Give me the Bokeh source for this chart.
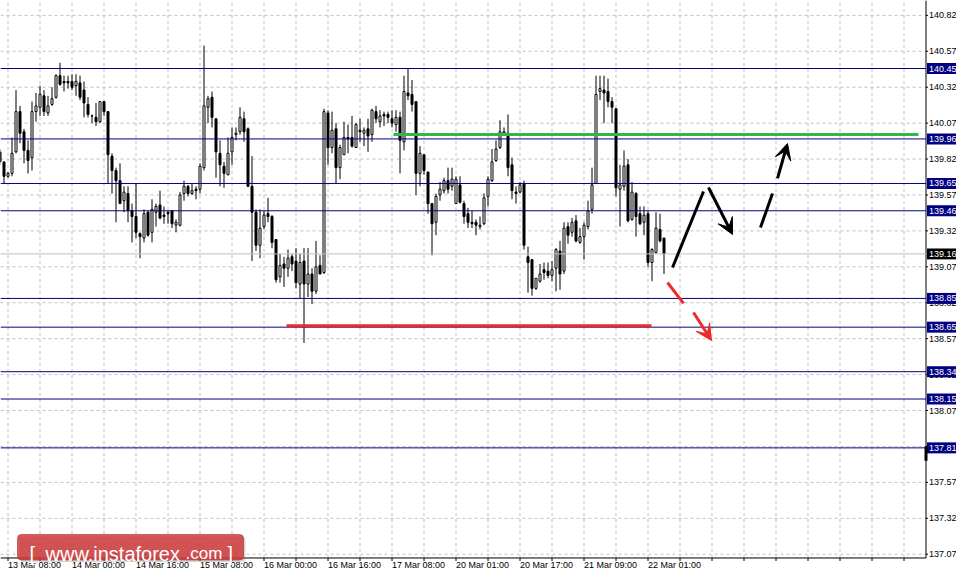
import pandas as pd
from bokeh.plotting import figure
from bokeh.models import (Range1d, Label, Arrow, VeeHead, BoxAnnotation, ColumnDataSource)
from bokeh.core.properties import value
from bokeh.embed import file_html
from bokeh.resources import INLINE

# ---------------- data (H1 candles, bar 0 = 13 Mar 08:00) ----------------
FIRST_BAR = -2
opens = [
    139.87, 139.80, 139.70, 139.72, 139.87, 140.15, 140.01, 139.88, 139.83, 140.15,
    140.18, 140.26, 140.14, 140.20, 140.25, 140.40, 140.36, 140.36, 140.36, 140.33,
    140.35, 140.30, 140.20, 140.12, 140.11, 140.08, 140.22, 140.15, 139.84, 139.74,
    139.67, 139.53, 139.58, 139.46, 139.42, 139.30, 139.27, 139.45, 139.31, 139.45,
    139.50, 139.43, 139.45, 139.46, 139.36, 139.36, 139.58, 139.63, 139.58, 139.61,
    139.61, 139.76, 140.18, 140.25, 140.10, 139.86, 139.77, 139.71, 139.87, 139.99,
    140.01, 140.10, 140.03, 139.63, 139.45, 139.22, 139.35, 139.44, 139.42, 139.26,
    139.00, 139.09, 139.06, 139.14, 139.11, 138.95, 139.11, 138.95, 139.02, 138.90,
    139.08, 139.03, 140.14, 139.90, 140.03, 139.76, 139.85, 139.97, 139.97, 139.90,
    140.02, 140.00, 140.03, 139.99, 140.15, 140.08, 140.13, 140.13, 140.10, 140.06,
    140.11, 139.94, 140.28, 140.27, 140.22, 139.72, 139.85, 139.73, 139.51, 139.38,
    139.57, 139.60, 139.67, 139.63, 139.51, 139.64, 139.51, 139.44, 139.38, 139.38,
    139.35, 139.37, 139.56, 139.67, 139.81, 139.90, 140.00, 140.00, 139.78, 139.59,
    139.59, 139.65, 139.14, 139.12, 138.92, 138.97, 139.05, 139.04, 139.01, 139.06,
    139.18, 139.04, 139.35, 139.31, 139.39, 139.24, 139.28, 139.35, 139.47, 139.65,
    140.29, 140.30, 140.29, 140.22, 140.17, 139.61, 139.63, 139.78, 139.40, 139.58,
    139.44, 139.38, 139.44, 139.10, 139.17, 139.33, 139.27,
]
highs = [
    139.89, 139.80, 139.73, 139.97, 140.30, 140.19, 140.03, 139.95, 140.22, 140.28,
    140.33, 140.30, 140.26, 140.32, 140.41, 140.49, 140.40, 140.40, 140.41, 140.41,
    140.40, 140.36, 140.25, 140.13, 140.21, 140.22, 140.22, 140.15, 139.86, 139.76,
    139.79, 139.63, 139.63, 139.51, 139.65, 139.31, 139.47, 139.46, 139.54, 139.51,
    139.60, 139.49, 139.46, 139.46, 139.40, 139.59, 139.67, 139.64, 139.65, 139.63,
    139.79, 140.61, 140.26, 140.29, 140.10, 139.95, 139.80, 139.97, 140.04, 140.04,
    140.18, 140.15, 140.04, 139.84, 139.47, 139.47, 139.46, 139.55, 139.43, 139.26,
    139.16, 139.14, 139.19, 139.16, 139.20, 139.16, 139.20, 139.20, 139.06, 139.25,
    139.15, 140.17, 140.16, 140.15, 140.07, 139.92, 140.08, 140.06, 140.12, 140.07,
    140.10, 140.04, 140.10, 140.17, 140.19, 140.16, 140.15, 140.15, 140.16, 140.16,
    140.15, 140.40, 140.45, 140.37, 140.22, 139.91, 139.85, 139.73, 139.51, 139.58,
    139.66, 139.69, 139.76, 139.76, 139.70, 139.70, 139.53, 139.48, 139.46, 139.40,
    139.42, 139.58, 139.70, 139.89, 139.95, 140.09, 140.04, 140.13, 139.83, 139.63,
    139.66, 139.67, 139.21, 139.12, 138.99, 139.09, 139.10, 139.10, 139.11, 139.20,
    139.25, 139.38, 139.38, 139.41, 139.43, 139.34, 139.38, 139.53, 139.76, 140.40,
    140.40, 140.40, 140.38, 140.25, 140.17, 139.78, 139.88, 139.82, 139.66, 139.59,
    139.49, 139.49, 139.46, 139.20, 139.45, 139.44, 139.27,
]
lows = [
    139.78, 139.65, 139.69, 139.70, 139.86, 139.93, 139.79, 139.72, 139.74, 140.08,
    140.12, 140.12, 140.12, 140.19, 140.24, 140.33, 140.29, 140.31, 140.30, 140.26,
    140.23, 140.11, 140.11, 140.07, 140.05, 140.07, 140.12, 139.65, 139.58, 139.38,
    139.51, 139.45, 139.38, 139.24, 139.27, 139.13, 139.24, 139.28, 139.24, 139.35,
    139.40, 139.37, 139.37, 139.34, 139.31, 139.35, 139.53, 139.56, 139.57, 139.54,
    139.58, 139.74, 140.07, 140.04, 139.69, 139.63, 139.62, 139.71, 139.78, 139.95,
    139.99, 139.94, 139.63, 139.11, 139.18, 139.13, 139.33, 139.38, 139.20, 138.96,
    138.96, 138.93, 139.00, 139.04, 138.92, 138.85, 138.54, 138.86, 138.81, 138.88,
    139.02, 139.02, 139.78, 139.86, 139.65, 139.68, 139.85, 139.86, 139.90, 139.90,
    139.94, 139.91, 139.87, 139.94, 140.07, 140.04, 140.05, 140.07, 140.04, 140.01,
    139.72, 139.88, 140.23, 140.15, 139.57, 139.63, 139.71, 139.44, 139.15, 139.29,
    139.53, 139.58, 139.58, 139.60, 139.51, 139.51, 139.37, 139.34, 139.34, 139.29,
    139.33, 139.36, 139.49, 139.66, 139.80, 139.89, 139.99, 139.70, 139.54, 139.51,
    139.58, 139.19, 138.89, 138.87, 138.91, 138.96, 138.98, 138.99, 138.97, 138.90,
    138.91, 139.02, 139.23, 139.28, 139.24, 139.23, 139.12, 139.33, 139.44, 139.65,
    140.23, 140.07, 140.18, 140.07, 139.56, 139.35, 139.60, 139.38, 139.39, 139.28,
    139.36, 139.29, 139.07, 138.97, 139.16, 139.24, 139.02,
]
closes = [
    139.80, 139.70, 139.72, 139.86, 140.15, 140.00, 139.88, 139.81, 140.15, 140.19,
    140.27, 140.15, 140.19, 140.24, 140.40, 140.34, 140.35, 140.35, 140.32, 140.36,
    140.25, 140.21, 140.13, 140.12, 140.08, 140.22, 140.15, 139.85, 139.74, 139.67,
    139.51, 139.59, 139.46, 139.42, 139.31, 139.28, 139.44, 139.29, 139.47, 139.49,
    139.41, 139.42, 139.44, 139.37, 139.38, 139.57, 139.63, 139.58, 139.60, 139.60,
    139.77, 140.19, 140.24, 140.11, 139.87, 139.78, 139.72, 139.86, 139.97, 140.00,
    140.11, 140.01, 139.63, 139.45, 139.22, 139.34, 139.43, 139.42, 139.24, 138.98,
    139.08, 139.06, 139.13, 139.09, 138.96, 139.10, 138.95, 139.02, 138.90, 139.07,
    139.02, 140.15, 139.90, 140.02, 139.76, 139.90, 139.97, 139.96, 139.91, 140.06,
    140.01, 140.02, 139.98, 140.16, 140.10, 140.12, 140.12, 140.11, 140.07, 140.11,
    139.95, 140.29, 140.26, 140.20, 139.72, 139.86, 139.74, 139.51, 139.37, 139.56,
    139.61, 139.67, 139.61, 139.68, 139.68, 139.52, 139.42, 139.38, 139.37, 139.36,
    139.36, 139.55, 139.68, 139.80, 139.89, 140.01, 140.01, 139.76, 139.60, 139.58,
    139.64, 139.22, 139.10, 138.92, 138.99, 139.02, 139.03, 139.01, 139.05, 139.19,
    139.02, 139.34, 139.29, 139.38, 139.25, 139.28, 139.36, 139.46, 139.64, 140.27,
    140.31, 140.28, 140.22, 140.18, 139.62, 139.64, 139.77, 139.39, 139.59, 139.42,
    139.37, 139.43, 139.10, 139.19, 139.34, 139.25, 139.16,
]
bars = list(range(FIRST_BAR, FIRST_BAR + len(opens)))

time_label_bars = [0, 16, 32, 48, 64, 80, 96, 112, 128, 144, 160]
time_labels = ["13 Mar 08:00", "14 Mar 00:00", "14 Mar 16:00", "15 Mar 08:00",
               "16 Mar 00:00", "16 Mar 16:00", "17 Mar 08:00", "20 Mar 01:00",
               "20 Mar 17:00", "21 Mar 09:00", "22 Mar 01:00"]
grid_bars = list(range(0, 232, 8))

price_ticks = [137.07, 137.32, 137.57, 137.82, 138.07, 138.32, 138.57, 138.82,
               139.07, 139.32, 139.57, 139.82, 140.07, 140.32, 140.57, 140.82]
levels = [140.45, 139.96, 139.65, 139.46, 138.85, 138.65, 138.34, 138.15, 137.81]
last_price = 139.16

# analyst drawings (bar index, price)
green_line = dict(x0=96.375, x1=227.625, y=139.99)
red_line = dict(x0=69.625, x1=160.875, y=138.66)
black_strokes = dict(x0=[166.125, 188.125], y0=[139.065, 139.344],
                     x1=[173.875, 191.125], y1=[139.594, 139.580])
black_arrows = dict(x0=[175.125, 192.375], y0=[139.622, 139.685],
                    x1=[181.125, 194.875], y1=[139.295, 139.928])
red_stroke = dict(x0=[164.875], y0=[138.961], x1=[168.875], y1=[138.815])
red_arrow = dict(x0=171.375, y0=138.752, x1=175.875, y1=138.557)

# ---------------- layout constants (bar / price units) ----------------
X_LEFT, X_RIGHT = -1.875, 237.125         # whole canvas, 4 px per bar
Y_BOTTOM, Y_TOP = 136.9636, 140.9233      # whole canvas
PX_Y = (Y_TOP - Y_BOTTOM) / 569.0         # price per pixel
CHART_RIGHT = 229.5                       # price-scale border
CHART_BOTTOM = 137.0437                   # time-scale border
LABEL_X = 230.25                          # start of right-hand labels
TAG_CX = 233.5                            # centre of level tags

FONT = "Liberation Sans"
NAVY = "#000080"
GRID = "#c0c0c0"

df = pd.DataFrame(dict(bar=bars, open=opens, high=highs, low=lows, close=closes))
df["top"] = df[["open", "close"]].max(axis=1)
df["bottom"] = df[["open", "close"]].min(axis=1)
up = ColumnDataSource(df[df.close > df.open])
down = ColumnDataSource(df[df.close <= df.open])
allsrc = ColumnDataSource(df)

p = figure(width=956, height=569, output_backend="svg", toolbar_location=None,
           x_range=Range1d(X_LEFT, X_RIGHT), y_range=Range1d(Y_BOTTOM, Y_TOP),
           x_axis_location=None, y_axis_location=None,
           min_border=0, min_border_left=0, min_border_right=0,
           min_border_top=0, min_border_bottom=0)
p.outline_line_color = None
p.background_fill_color = "white"
p.border_fill_color = "white"
p.grid.visible = False

# dashed grid limited to the chart area
p.segment(x0=grid_bars, y0=[CHART_BOTTOM] * len(grid_bars), x1=grid_bars,
          y1=[Y_TOP] * len(grid_bars), line_color=GRID, line_dash="3 3", line_width=1)
p.segment(x0=[X_LEFT] * len(price_ticks), y0=price_ticks, x1=[CHART_RIGHT] * len(price_ticks),
          y1=price_ticks, line_color=GRID, line_dash="3 3", line_width=1)

# price scale (right) and time scale (bottom)
p.segment(x0=[CHART_RIGHT], y0=[CHART_BOTTOM], x1=[CHART_RIGHT], y1=[Y_TOP],
          line_color="black", line_width=1)
p.segment(x0=[X_LEFT], y0=[CHART_BOTTOM], x1=[CHART_RIGHT], y1=[CHART_BOTTOM],
          line_color="black", line_width=1)
p.segment(x0=[CHART_RIGHT] * len(price_ticks), y0=price_ticks,
          x1=[CHART_RIGHT + 0.5] * len(price_ticks), y1=price_ticks,
          line_color="black", line_width=1)
p.segment(x0=grid_bars, y0=[CHART_BOTTOM] * len(grid_bars), x1=grid_bars,
          y1=[CHART_BOTTOM - 3 * PX_Y] * len(grid_bars), line_color="black", line_width=1)
p.text(x=[LABEL_X] * len(price_ticks), y=price_ticks, text=[f"{t:.2f}" for t in price_ticks],
       text_font=value(FONT), text_font_size=value("9px"), text_color="black",
       text_align="left", text_baseline="middle")
p.text(x=time_label_bars, y=[CHART_BOTTOM - 2 * PX_Y] * len(time_label_bars), text=time_labels,
       text_font=value(FONT), text_font_size=value("9px"), text_color="black",
       text_align="left", text_baseline="top")

# candles
p.segment(x0="bar", y0="high", x1="bar", y1="low", source=allsrc,
          line_color="black", line_width=1)
p.vbar(x="bar", width=0.5, top="top", bottom="bottom", source=up,
       fill_color="white", line_color="black", line_width=1)
p.vbar(x="bar", width=0.5, top="top", bottom="bottom", source=down,
       fill_color="black", line_color="black", line_width=1)

# horizontal levels and last price line
p.segment(x0=[X_LEFT] * len(levels), y0=levels, x1=[CHART_RIGHT] * len(levels), y1=levels,
          line_color=NAVY, line_width=1)
p.segment(x0=[X_LEFT], y0=[last_price], x1=[CHART_RIGHT], y1=[last_price],
          line_color=GRID, line_width=1)

# drawings
p.segment(x0=[green_line["x0"]], y0=[green_line["y"]], x1=[green_line["x1"]], y1=[green_line["y"]],
          line_color="#35b44a", line_width=3)
p.segment(x0=[red_line["x0"]], y0=[red_line["y"]], x1=[red_line["x1"]], y1=[red_line["y"]],
          line_color="#ee2a2a", line_width=3)
p.segment(x0=black_strokes["x0"], y0=black_strokes["y0"], x1=black_strokes["x1"], y1=black_strokes["y1"],
          line_color="black", line_width=3)
p.segment(x0=red_stroke["x0"], y0=red_stroke["y0"], x1=red_stroke["x1"], y1=red_stroke["y1"],
          line_color="#ee2a2a", line_width=3)
for xs, ys, xe, ye in zip(black_arrows["x0"], black_arrows["y0"], black_arrows["x1"], black_arrows["y1"]):
    p.add_layout(Arrow(end=VeeHead(size=16, fill_color="black", line_color="black"),
                       x_start=xs, y_start=ys, x_end=xe, y_end=ye,
                       line_color="black", line_width=3))
p.add_layout(Arrow(end=VeeHead(size=16, fill_color="#ee2a2a", line_color="#ee2a2a"),
                   x_start=red_arrow["x0"], y_start=red_arrow["y0"],
                   x_end=red_arrow["x1"], y_end=red_arrow["y1"],
                   line_color="#ee2a2a", line_width=3))

# level price tags on the price scale
tag_prices = levels + [last_price]
tag_colors = [NAVY] * len(levels) + ["black"]
p.rect(x=[TAG_CX] * len(tag_prices), y=tag_prices, width=30, height=11,
       width_units="screen", height_units="screen", fill_color=tag_colors, line_color=None)
p.text(x=[LABEL_X] * len(tag_prices), y=tag_prices, text=[f"{v:.2f}" for v in tag_prices],
       text_font=value(FONT), text_font_size=value("9px"), text_color="white",
       text_align="left", text_baseline="middle")
p.add_layout(BoxAnnotation(left=CHART_RIGHT - 0.375, right=CHART_RIGHT + 0.375, top=137.82,
                           bottom=137.72, fill_color="black", fill_alpha=1, line_color=None))

# watermark logo (kept above the time labels)
p.add_layout(BoxAnnotation(left=2.875, right=59.375, top=137.1933, bottom=137.0158,
                           fill_color="#777777", fill_alpha=0.3, line_color=None, border_radius=4))
p.add_layout(BoxAnnotation(left=2.375, right=58.875, top=137.2072, bottom=137.0297,
                           fill_color="#cf3535", fill_alpha=0.82, line_color="#b02a2a",
                           line_alpha=0.6, border_radius=4))
for lx, txt, size in [(5.375, "[", "20px"), (9.375, "www.instaforex", "20px"),
                      (44.375, ".com", "17px"), (54.875, "]", "20px")]:
    p.add_layout(Label(x=lx, y=137.0715, text=txt, text_font=FONT, text_font_size=size,
                       text_color="white", text_align="left", text_baseline="alphabetic"))

open("out.html", "w").write(file_html(p, INLINE))
